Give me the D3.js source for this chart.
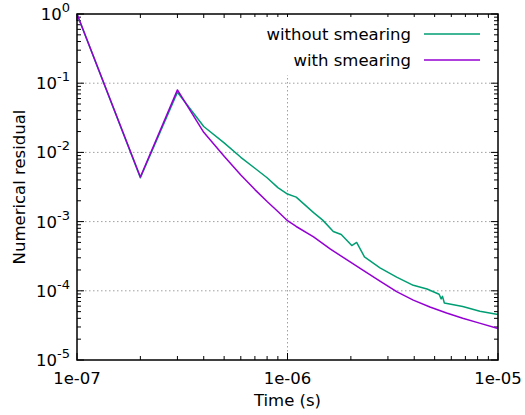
<!DOCTYPE html>
<html>
<head>
<meta charset="utf-8">
<script src="https://cdn.jsdelivr.net/npm/d3@7"></script>
<style>
  body { margin: 0; background: #fff; }
  text { font-family: "DejaVu Sans", sans-serif; fill: #000; }
</style>
</head>
<body>
<div id="chart"></div>
<script>
// residual vs time
const timeNoSmear = [1e-7, 2e-7, 3e-7, 4e-7, 5e-7, 6e-7, 7e-7, 8e-7, 9e-7, 1e-6, 1.1e-6, 1.33e-6, 1.47e-6,
  1.65e-6, 1.8e-6, 2.02e-6, 2.13e-6, 2.32e-6, 2.75e-6, 3.3e-6, 3.96e-6, 4.6e-6, 5.25e-6, 5.37e-6, 5.45e-6,
  5.56e-6, 6.8e-6, 8.2e-6, 1e-5];
const resNoSmear = [1, 0.0043, 0.074, 0.0237, 0.0137, 0.0085, 0.0059, 0.0043, 0.0031, 0.0025, 0.00226, 0.00135, 0.00105,
  0.00072, 0.00065, 0.00045, 0.0005, 0.00031, 0.000215, 0.000158, 0.00012, 0.000106, 0.000089, 0.0000764, 0.0000832,
  0.0000668, 0.0000592, 0.0000506, 0.0000454];

const timeSmear = [1e-7, 2e-7, 3e-7, 4e-7, 5e-7, 6e-7, 7e-7, 8e-7, 9e-7, 1e-6, 1.1e-6, 1.33e-6, 1.6e-6, 1.91e-6,
  2.3e-6, 2.75e-6, 3.3e-6, 3.96e-6, 4.75e-6, 5.7e-6, 6.8e-6, 8.17e-6, 1e-5];
const resSmear = [1, 0.0044, 0.08, 0.0195, 0.0088, 0.0047, 0.0029, 0.00195, 0.0014, 0.00103, 0.00085, 0.0006, 0.0004, 0.000282,
  0.000196, 0.000138, 0.0000973, 0.0000733, 0.0000582, 0.0000477, 0.0000401, 0.0000341, 0.0000285];

const seriesNames = ["without smearing", "with smearing"];
const seriesColors = ["#009e73", "#9400d3"];

const xTicks = [1e-7, 1e-6, 1e-5];
const xTickLabels = ["1e-07", "1e-06", "1e-05"];
const yExponents = [0, -1, -2, -3, -4, -5];

const width = 525, height = 415;
const margin = {top: 14, right: 27, bottom: 55, left: 77};
const plotW = width - margin.left - margin.right;
const plotH = height - margin.top - margin.bottom;
const fs = "16.5px";

const svg = d3.select("#chart").append("svg")
  .attr("width", width)
  .attr("height", height);

const g = svg.append("g")
  .attr("transform", "translate(" + margin.left + "," + margin.top + ")");

const x = d3.scaleLog().domain([1e-7, 1e-5]).range([0, plotW]);
const y = d3.scaleLog().domain([1e-5, 1]).range([plotH, 0]);

// minor tick positions (2..9 of each decade)
const xMinor = [];
[1e-7, 1e-6].forEach(d => { for (let k = 2; k <= 9; k++) xMinor.push(d * k); });
const yMinor = [];
[1e-5, 1e-4, 1e-3, 1e-2, 1e-1].forEach(d => { for (let k = 2; k <= 9; k++) yMinor.push(d * k); });

// grid
const grid = g.append("g")
  .attr("stroke", "#a0a0a0")
  .attr("stroke-width", 1)
  .attr("stroke-dasharray", "1.5,2.5");
grid.selectAll(".gx").data(xTicks.slice(1, -1)).join("line")
  .attr("x1", d => x(d)).attr("x2", d => x(d))
  .attr("y1", 0).attr("y2", plotH);
grid.selectAll(".gy").data(yExponents.slice(1, -1)).join("line")
  .attr("x1", 0).attr("x2", plotW)
  .attr("y1", d => y(Math.pow(10, d))).attr("y2", d => y(Math.pow(10, d)));

// ticks on all four sides, pointing inward
const tk = g.append("g").attr("stroke", "#000").attr("stroke-width", 1);
const major = 7, minor = 4;
function xTickLines(vals, len) {
  tk.append("g").selectAll("line").data(vals).join("line")
    .attr("x1", d => x(d)).attr("x2", d => x(d))
    .attr("y1", plotH).attr("y2", plotH - len);
  tk.append("g").selectAll("line").data(vals).join("line")
    .attr("x1", d => x(d)).attr("x2", d => x(d))
    .attr("y1", 0).attr("y2", len);
}
function yTickLines(vals, len) {
  tk.append("g").selectAll("line").data(vals).join("line")
    .attr("y1", d => y(d)).attr("y2", d => y(d))
    .attr("x1", 0).attr("x2", len);
  tk.append("g").selectAll("line").data(vals).join("line")
    .attr("y1", d => y(d)).attr("y2", d => y(d))
    .attr("x1", plotW).attr("x2", plotW - len);
}
xTickLines(xTicks, major);
xTickLines(xMinor, minor);
yTickLines(yExponents.map(e => Math.pow(10, e)), major);
yTickLines(yMinor, minor);

// legend box blanks the grid behind it
g.append("rect")
  .attr("x", 175).attr("y", 3)
  .attr("width", 236).attr("height", 58)
  .attr("fill", "#fff");

// curves
const line = d3.line().x(d => x(d[0])).y(d => y(d[1]));
const series = [
  d3.zip(timeNoSmear, resNoSmear),
  d3.zip(timeSmear, resSmear)
];
g.selectAll(".curve").data(series).join("path")
  .attr("class", "curve")
  .attr("d", line)
  .attr("fill", "none")
  .attr("stroke", (d, i) => seriesColors[i])
  .attr("stroke-width", 1.5)
  .attr("stroke-linejoin", "round");

// frame
g.append("rect")
  .attr("width", plotW).attr("height", plotH)
  .attr("fill", "none").attr("stroke", "#000").attr("stroke-width", 1.5);

// x tick labels
g.selectAll(".xl").data(xTicks).join("text")
  .attr("x", d => x(d)).attr("y", plotH + 24)
  .attr("text-anchor", "middle")
  .style("font-size", fs)
  .text((d, i) => xTickLabels[i]);

// y tick labels 10^n
const yl = g.selectAll(".yl").data(yExponents).join("text")
  .attr("x", -7).attr("y", d => y(Math.pow(10, d)) + 6)
  .attr("text-anchor", "end")
  .style("font-size", fs);
yl.append("tspan").text("10");
yl.append("tspan").attr("dy", -8).style("font-size", "13px").text(d => d);

// axis titles
svg.append("text")
  .attr("x", margin.left + plotW / 2).attr("y", 406)
  .attr("text-anchor", "middle")
  .style("font-size", fs)
  .text("Time (s)");
svg.append("text")
  .attr("transform", "translate(25," + (margin.top + plotH / 2) + ") rotate(-90)")
  .attr("text-anchor", "middle")
  .style("font-size", fs)
  .text("Numerical residual");

// legend
const lg = g.selectAll(".lg").data(seriesNames).join("g")
  .attr("transform", (d, i) => "translate(0," + (20 + i * 26) + ")");
lg.append("text")
  .attr("x", 334).attr("y", 6)
  .attr("text-anchor", "end")
  .style("font-size", fs)
  .text(d => d);
lg.append("line")
  .attr("x1", 347).attr("x2", 403)
  .attr("stroke", (d, i) => seriesColors[i])
  .attr("stroke-width", 1.5);
</script>
</body>
</html>
